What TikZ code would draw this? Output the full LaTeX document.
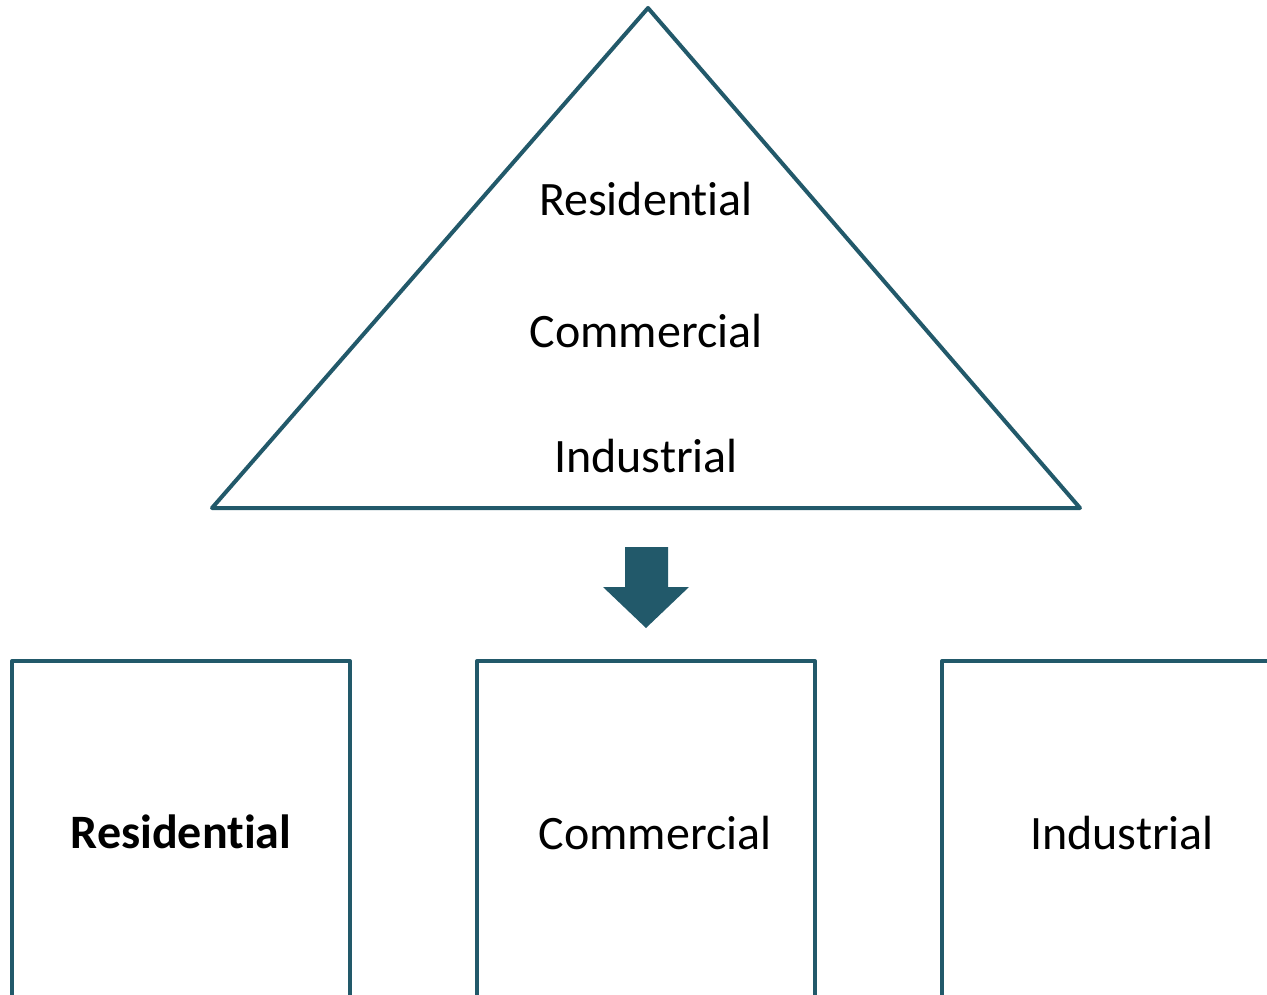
\documentclass[tikz,border=0pt]{standalone}
\usepackage{fontspec}
\setmainfont{Carlito}[Ligatures=NoCommon]
\definecolor{teal}{RGB}{34,89,106}
\begin{document}
\begin{tikzpicture}[x=1pt,y=-1pt,
  outline/.style={draw=teal,line width=4pt,line join=round},
  lbl/.style={font=\fontsize{48}{56}\selectfont,text=black,inner sep=0pt,anchor=base}]
\useasboundingbox (0,0) rectangle (1267,995);
\clip (0,0) rectangle (1267,995);
% triangle
\coordinate (apex) at (648,8);
\coordinate (bl) at (212,508);
\coordinate (br) at (1080,508);
\draw[outline] (apex) -- (br) -- (bl) -- cycle;
\node[lbl] (t1) at (646,216) {Residential};
\node[lbl] (t2) at (646,347) {Commercial};
\node[lbl] (t3) at (646,472) {Industrial};
% arrow
\fill[teal] (625,547) -- (668,547) -- (668,587) -- (689,587) -- (646,628) -- (603,587) -- (625,587) -- cycle;
% boxes
\draw[outline] (12,1010) -- (12,661) -- (350,661) -- (350,1010);
\draw[outline] (477,1010) -- (477,661) -- (815,661) -- (815,1010);
\draw[outline] (942,1010) -- (942,661) -- (1290,661);
\node[lbl,font=\fontsize{48}{56}\selectfont\bfseries] (b1) at (181,848) {Residential};
\node[lbl] (b2) at (655,849) {Commercial};
\node[lbl] (b3) at (1122,849) {Industrial};
\end{tikzpicture}
\end{document}
